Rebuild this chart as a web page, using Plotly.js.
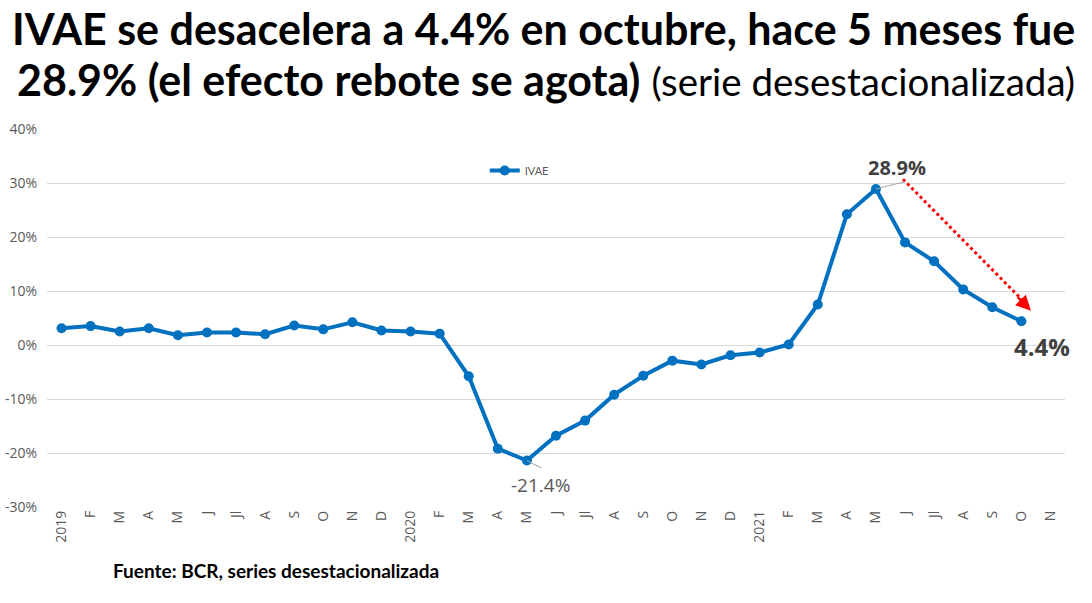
<!DOCTYPE html>
<html>
<head>
<meta charset="utf-8">
<script src="https://cdn.plot.ly/plotly-3.0.1.min.js"></script>
<style>html,body{margin:0;padding:0;background:#fff;}#chart{width:1092px;height:603px;}</style>
</head>
<body>
<div id="chart"></div>
<script>
// Tick labels (Jan 2019 .. Nov 2021)
const tickLabels = ["2019","F","M","A","M","J","Jl","A","S","O","N","D",
                    "2020","F","M","A","M","J","Jl","A","S","O","N","D",
                    "2021","F","M","A","M","J","Jl","A","S","O","N"];
// IVAE yoy variation, seasonally adjusted (%), Jan 2019 .. Oct 2021
const ivae = [3.1, 3.5, 2.5, 3.1, 1.8, 2.3, 2.3, 2.0, 3.6, 2.9, 4.2, 2.7,
              2.5, 2.1, -5.8, -19.2, -21.4, -16.8, -14.0, -9.2, -5.7, -2.9, -3.6, -1.9,
              -1.4, 0.1, 7.5, 24.2, 28.9, 19.0, 15.5, 10.3, 7.0, 4.4];
const yTicks = [-30, -20, -10, 0, 10, 20, 30, 40];

const xIdx = ivae.map((_, i) => i);
const tickIdx = tickLabels.map((_, i) => i);

const iMax = ivae.indexOf(Math.max(...ivae));
const iMin = ivae.indexOf(Math.min(...ivae));
const iLast = ivae.length - 1;
const fmt = v => v.toFixed(1) + "%";

const trace = {
  x: xIdx, y: ivae, type: "scatter", mode: "lines+markers", name: "IVAE",
  line: {color: "#0070C0", width: 4},
  marker: {color: "#0070C0", size: 10},
  hoverinfo: "skip"
};

const titleFont = "Lato, 'Open Sans', sans-serif";

const layout = {
  width: 1092, height: 603,
  margin: {l: 47, r: 27, t: 129, b: 96},
  paper_bgcolor: "#ffffff", plot_bgcolor: "#ffffff",
  font: {family: "Lato, 'Open Sans', sans-serif", color: "#595959"},
  xaxis: {
    range: [-0.5, tickLabels.length - 0.5],
    tickmode: "array", tickvals: tickIdx, ticktext: tickLabels,
    tickangle: -90, tickfont: {size: 14, color: "#595959", family: "'Open Sans', sans-serif"},
    showgrid: false, zeroline: false, showline: false, ticks: "", automargin: false
  },
  yaxis: {
    range: [-30, 40], tickmode: "array", tickvals: yTicks,
    ticktext: yTicks.map(v => v + "%"),
    tickfont: {size: 14, color: "#595959", family: "'Open Sans', sans-serif"},
    showgrid: true, gridcolor: "#d9d9d9", gridwidth: 1,
    zeroline: false, showline: false, ticks: "", automargin: false,
    ticklabelstandoff: 9
  },
  showlegend: true,
  legend: {
    x: 0.43, y: 0.89, xanchor: "left", yanchor: "middle",
    font: {size: 11, color: "#595959"}, bgcolor: "rgba(0,0,0,0)", itemwidth: 30
  },
  shapes: [
    // red dotted trend arrow shaft
    {type: "line", xref: "x", yref: "y", x0: iMax + 0.93, y0: ivae[iMax] + 1.8, x1: iLast + 0.2, y1: ivae[iLast] + 3.0,
     line: {color: "#ff0000", width: 3, dash: "dot"}},
    // leader lines
    {type: "line", xref: "x", yref: "y", x0: iMax, y0: ivae[iMax], x1: iMax + 0.97, y1: ivae[iMax] + 1.3,
     line: {color: "#a6a6a6", width: 1}},
    {type: "line", xref: "x", yref: "y", x0: iMin, y0: ivae[iMin], x1: iMin + 0.5, y1: ivae[iMin] - 1.4,
     line: {color: "#a6a6a6", width: 1}}
  ],
  annotations: [
    // title lines
    {xref: "paper", yref: "paper", x: 0.488, y: 1.265, xanchor: "center", yanchor: "middle", showarrow: false,
     text: "<b>IVAE se desacelera a 4.4% en octubre, hace 5 meses fue</b>",
     font: {family: titleFont, size: 43, color: "#000000"}},
    {xref: "paper", yref: "paper", x: 0.49, y: 1.13, xanchor: "center", yanchor: "middle", showarrow: false,
     text: "<b>28.9% (el efecto rebote se agota)</b> <span style='font-size:38.5px'>(serie desestacionalizada)</span>",
     font: {family: titleFont, size: 43, color: "#000000"}},
    // arrow head
    {xref: "x", yref: "y", axref: "x", ayref: "y", x: iLast + 0.33, y: ivae[iLast] + 1.95,
     ax: iLast - 0.17, ay: ivae[iLast] + 4.7, text: "", showarrow: true,
     arrowhead: 2, arrowsize: 1.2, arrowwidth: 2.5, arrowcolor: "#ff0000"},
    {xref: "x", yref: "y", x: iMax + 0.72, y: ivae[iMax] + 3.9, text: "<b>" + fmt(ivae[iMax]) + "</b>",
     showarrow: false, font: {size: 20, color: "#404040", family: "'Open Sans', sans-serif"}},
    {xref: "x", yref: "y", x: iMin + 0.45, y: ivae[iMin] - 4.5, text: fmt(ivae[iMin]),
     showarrow: false, font: {size: 19, color: "#595959", family: "'Open Sans', sans-serif"}},
    {xref: "x", yref: "y", x: iLast + 0.7, y: ivae[iLast] - 4.6, text: "<b>" + fmt(ivae[iLast]) + "</b>",
     showarrow: false, font: {size: 24, color: "#404040", family: "'Open Sans', sans-serif"}},
    {xref: "paper", yref: "paper", x: 0.063, y: -0.167, xanchor: "left", yanchor: "middle",
     text: "<b>Fuente: BCR, series desestacionalizada</b>", showarrow: false,
     font: {size: 19, color: "#000000", family: "Lato, 'Open Sans', sans-serif"}}
  ]
};

Plotly.newPlot("chart", [trace], layout, {displayModeBar: false, staticPlot: true});
</script>
</body>
</html>
